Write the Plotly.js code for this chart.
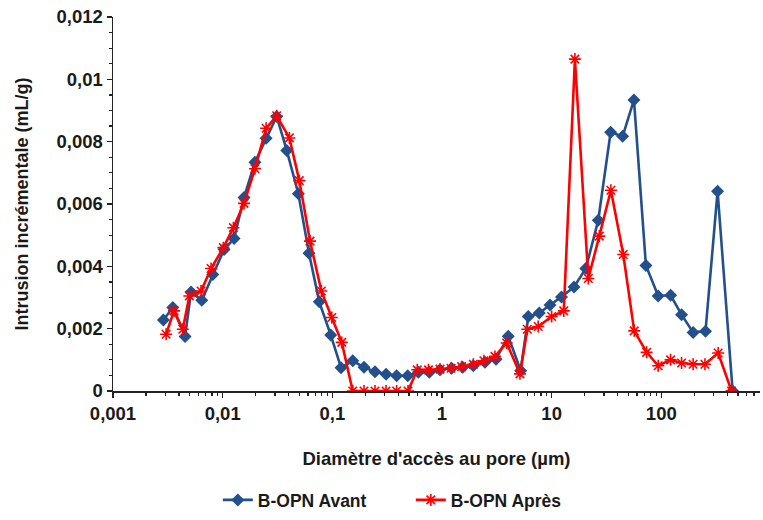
<!DOCTYPE html>
<html>
<head>
<meta charset="utf-8">
<script src="https://cdn.plot.ly/plotly-3.0.1.min.js"></script>
<style>html,body{margin:0;padding:0;background:#fff;}#chart{width:763px;height:520px;}</style>
</head>
<body>
<div id="chart"></div>
<script>
// Diamètre d'accès au pore (µm) and incremental intrusion (mL/g)
var avantDiam = [0.00288,0.00351,0.00454,0.00515,0.00645,0.00813,0.0103,0.0127,0.01567,0.0197,0.0249,0.0311,0.0384,0.049,0.0613,0.076,0.0967,0.12,0.1535,0.1945,0.245,0.309,0.386,0.487,0.608,0.766,0.959,1.225,1.545,1.93,2.466,3.11,4.02,5.22,6.12,7.71,9.66,12.3,16.0,20.5,26.6,34.5,44.4,56.3,72.4,93.7,121.6,153,195,253,326,447];
var avantVal = [0.00228,0.00268,0.00175,0.00318,0.00291,0.00374,0.00454,0.00489,0.00621,0.00734,0.00811,0.00881,0.00772,0.00633,0.00442,0.00286,0.00180,0.00075,0.00097,0.00076,0.00062,0.00054,0.00049,0.00049,0.00060,0.00060,0.00068,0.00073,0.00076,0.00081,0.00092,0.00102,0.00176,0.00065,0.00239,0.00250,0.00276,0.00302,0.00334,0.00393,0.00548,0.00830,0.00817,0.00934,0.00403,0.00305,0.00307,0.00245,0.00188,0.00192,0.00641,0.0];
var apresDiam = [0.00305,0.0036,0.00433,0.00497,0.00635,0.00784,0.01015,0.01253,0.01567,0.0197,0.0249,0.0311,0.0406,0.05,0.0626,0.0794,0.0988,0.122,0.1535,0.1945,0.245,0.309,0.386,0.49,0.595,0.753,0.959,1.21,1.51,1.93,2.41,3.04,3.89,5.14,6.0,7.54,10.0,12.9,16.3,21.6,27.2,34.7,45.0,56.6,73.5,93.7,121.6,153,195,250,330,437];
var apresVal = [0.00182,0.00257,0.00198,0.00305,0.00321,0.00393,0.00460,0.00524,0.00602,0.00713,0.00843,0.00883,0.00812,0.00675,0.00481,0.00321,0.00236,0.00156,0.0,0.0,0.0,0.0,0.0,0.0,0.00068,0.00068,0.00070,0.00073,0.00078,0.00086,0.00097,0.00111,0.00154,0.00055,0.00198,0.00207,0.00239,0.00257,0.01065,0.00361,0.00497,0.00644,0.00438,0.00193,0.00124,0.00081,0.00100,0.00090,0.00086,0.00086,0.00122,0.0];
var seriesNames = ["B-OPN Avant", "B-OPN Après"];
var xTickVals = [0.001, 0.01, 0.1, 1, 10, 100, 1000];
var xTickText = ["0,001", "0,01", "0,1", "1", "10", "100", "1000"];
var yTickVals = [0, 0.002, 0.004, 0.006, 0.008, 0.01, 0.012];
var yTickText = ["0", "0,002", "0,004", "0,006", "0,008", "0,01", "0,012"];

var fontFam = "Liberation Sans, Arial, sans-serif";
var txtCol = "#1a1a1a";
var traces = [
  {x: avantDiam, y: avantVal, name: seriesNames[0], type: "scatter", mode: "lines+markers",
   line: {color: "#23508C", width: 2.6},
   marker: {symbol: "diamond", size: 10, color: "#23508C"}},
  {x: apresDiam, y: apresVal, name: seriesNames[1], type: "scatter", mode: "lines+markers",
   line: {color: "#FF0000", width: 2.6},
   marker: {symbol: "asterisk-open", size: 10, color: "#FF0000", line: {color: "#FF0000", width: 1.6}}}
];
var layout = {
  width: 763, height: 520,
  margin: {l: 113, r: 3, t: 17, b: 128},
  paper_bgcolor: "#fff", plot_bgcolor: "#fff",
  font: {family: fontFam, size: 14, color: txtCol},
  showlegend: true,
  legend: {orientation: "h", x: 0.162, xanchor: "left", y: -0.288, yanchor: "middle",
           font: {family: fontFam, size: 17.5, color: txtCol, weight: "bold"},
           itemwidth: 30, entrywidth: 148, tracegroupgap: 0},
  xaxis: {type: "log", range: [-3, 2.9], tickvals: xTickVals, ticktext: xTickText,
          showgrid: false, zeroline: false, showline: true, linecolor: "#222", linewidth: 1.5,
          ticks: "outside", ticklen: 5, tickcolor: "#222", tickwidth: 1.2,
          minor: {ticks: "outside", ticklen: 3, tickcolor: "#222", dtick: "D1", showgrid: false},
          tickfont: {family: fontFam, size: 18.5, color: txtCol, weight: "bold"},
          title: {text: "Diamètre d'accès au pore (µm)", standoff: 29,
                  font: {family: fontFam, size: 18.5, color: txtCol, weight: "bold"}},
          automargin: false},
  yaxis: {range: [0, 0.012], tickvals: yTickVals, ticktext: yTickText,
          showgrid: false, zeroline: false, showline: true, linecolor: "#222", linewidth: 1.5,
          ticks: "outside", ticklen: 5, tickcolor: "#222", tickwidth: 1.2,
          minor: {ticks: "outside", ticklen: 3, tickcolor: "#222", dtick: 0.0005, showgrid: false},
          tickfont: {family: fontFam, size: 18.5, color: txtCol, weight: "bold"},
          title: {text: "Intrusion incrémentale (mL/g)", standoff: 23,
                  font: {family: fontFam, size: 18, color: txtCol, weight: "bold"}},
          automargin: false}
};
Plotly.newPlot("chart", traces, layout, {displayModeBar: false, staticPlot: true});
</script>
</body>
</html>
